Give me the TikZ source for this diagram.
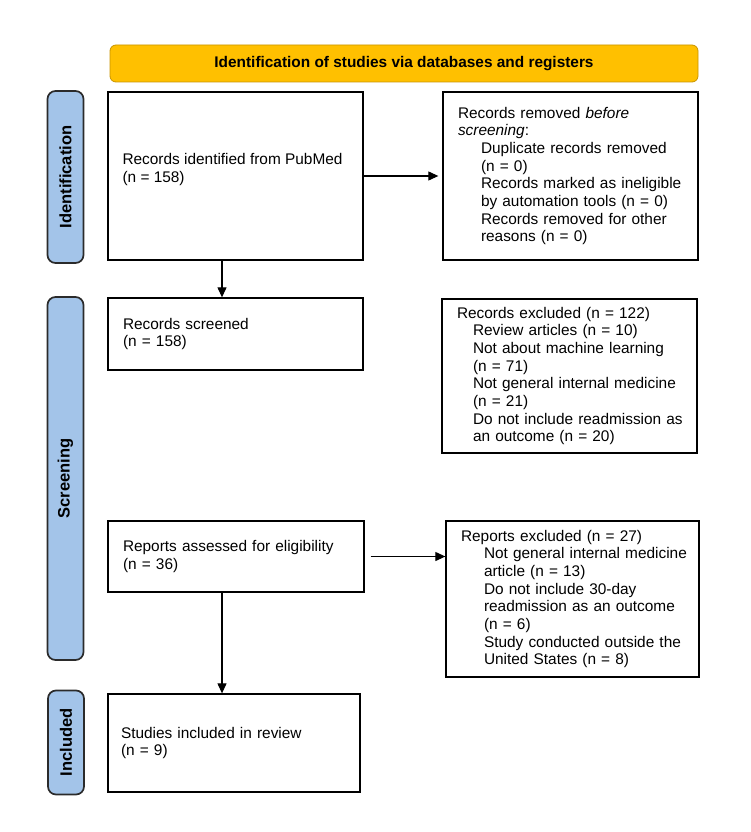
\documentclass[tikz,border=0pt]{standalone}
\usepackage{fontspec}
\setmainfont{Liberation Sans}
\usetikzlibrary{arrows.meta}
\definecolor{bannerfill}{HTML}{FFC000}
\definecolor{bannerline}{HTML}{C89400}
\definecolor{barfill}{HTML}{A3C4E9}
\definecolor{barline}{HTML}{2B2B2B}
\begin{document}
\begin{tikzpicture}[x=1pt,y=-1pt,
  txtfont/.style={font=\fontsize{15.4pt}{17.7pt}\selectfont},
  box/.style={draw=black, line width=1.3pt, fill=white, align=left, inner xsep=15pt, inner ysep=0pt, txtfont},
  txt/.style={align=left, inner sep=0pt, txtfont},
  sidebar/.style={draw=barline, line width=1.7pt, fill=barfill, rounded corners=8pt, rotate=90, inner sep=0pt, font=\fontsize{16.5pt}{19pt}\selectfont\bfseries},
  banner/.style={draw=bannerline, line width=0.8pt, fill=bannerfill, rounded corners=6pt, inner sep=0pt, font=\fontsize{15.4pt}{17.7pt}\selectfont\bfseries},
  arr/.style={line width=1.1pt, -{Triangle[length=10pt,width=9pt]}}
]
\useasboundingbox (0,0) rectangle (750,832);

% header
\node[banner, minimum width=588pt, minimum height=37pt] (hd) at (404,63.5) {Identification of studies via databases and registers};

% side bars
\node[sidebar, minimum width=172pt, minimum height=36pt] (s1) at (65.5,177) {Identification};
\node[sidebar, minimum width=363pt, minimum height=36pt] (s2) at (65.5,478.5) {Screening};
\node[sidebar, minimum width=104pt, minimum height=36pt] (s3) at (66,742.5) {Included};

% boxes
\node[box, text width=225pt, minimum height=168pt] (b1) at (235.5,176) {};
\node[txt, anchor=west] (t1) at ([xshift=15pt,yshift=6.5pt]b1.west) {Records identified from PubMed\\(n = 158)};

\node[box, text width=225pt, minimum height=168pt] (b2) at (570.5,176) {Records removed \textit{before}\\
\textit{screening}:\\
\hspace*{23pt}Duplicate records removed\\
\hspace*{23pt}(n = 0)\\
\hspace*{23pt}\mbox{Records marked as ineligible}\\
\hspace*{23pt}\mbox{by automation tools (n = 0)}\\
\hspace*{23pt}Records removed for other\\
\hspace*{23pt}reasons (n = 0)};

\node[box, text width=225pt, minimum height=72pt] (b3) at (235.5,334) {Records screened\\(n = 158)};

\node[box, text width=225pt, minimum height=154pt] (b4) at (569.5,376) {Records excluded (n = 122)\\
\hspace*{16pt}Review articles (n = 10)\\
\hspace*{16pt}\mbox{Not about machine learning}\\
\hspace*{16pt}(n = 71)\\
\hspace*{16pt}\mbox{Not general internal medicine}\\
\hspace*{16pt}(n = 21)\\
\hspace*{16pt}\mbox{Do not include readmission as}\\
\hspace*{16pt}an outcome (n = 20)};

\node[box, text width=226pt, minimum height=71pt] (b5) at (236,556.5) {Reports assessed for eligibility\\(n = 36)};

\node[box, text width=223pt, minimum height=156pt] (b6) at (572.5,599) {Reports excluded (n = 27)\\
\hspace*{23pt}\mbox{Not general internal medicine}\\
\hspace*{23pt}article (n = 13)\\
\hspace*{23pt}\mbox{Do not include 30-day}\\
\hspace*{23pt}\mbox{readmission as an outcome}\\
\hspace*{23pt}(n = 6)\\
\hspace*{23pt}\mbox{Study conducted outside the}\\
\hspace*{23pt}United States (n = 8)};

\node[box, text width=226pt, minimum height=98pt, inner xsep=13pt] (b7) at (234,743) {Studies included in review\\(n = 9)};

% connectors
\coordinate (vx) at (222,0);
\draw[arr, shorten >=4pt] (b1.east) -- (b2.west);
\draw[arr] (b1.south -| vx) -- (b3.north -| vx);
\draw[arr] ([xshift=6pt]b5.east) -- (b6.west |- b5.east);
\draw[arr] (b5.south -| vx) -- (b7.north -| vx);
\end{tikzpicture}
\end{document}
